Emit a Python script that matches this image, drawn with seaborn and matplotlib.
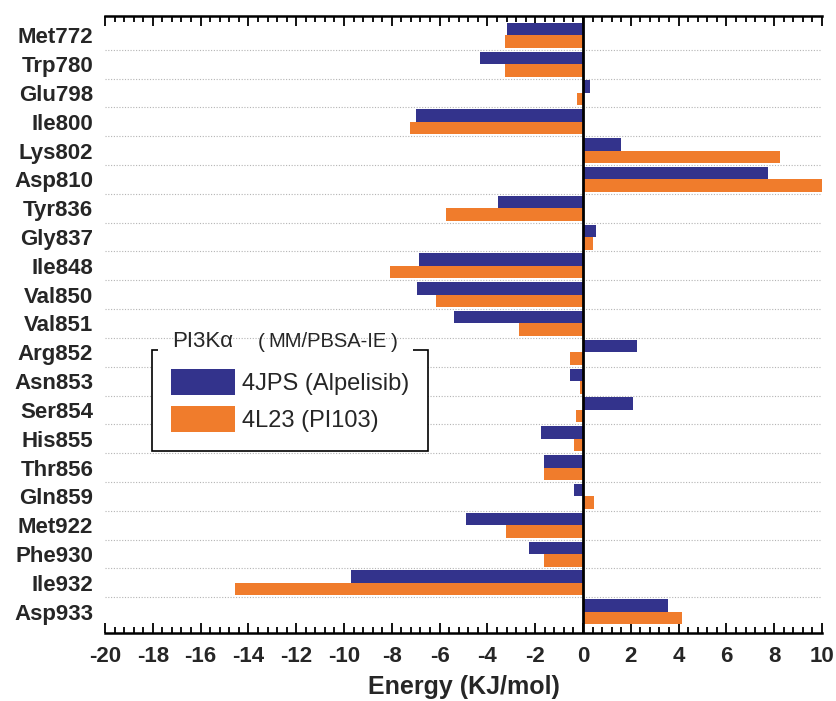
import matplotlib
matplotlib.use("Agg")
import matplotlib.pyplot as plt
from matplotlib.patches import Rectangle, Patch
from matplotlib.ticker import MultipleLocator
import seaborn as sns
import pandas as pd

residues = ["Met772", "Trp780", "Glu798", "Ile800", "Lys802", "Asp810", "Tyr836",
            "Gly837", "Ile848", "Val850", "Val851", "Arg852", "Asn853", "Ser854",
            "His855", "Thr856", "Gln859", "Met922", "Phe930", "Ile932", "Asp933"]
alpelisib = [-3.2, -4.3, 0.28, -7.0, 1.57, 7.73, -3.55, 0.55, -6.88, -6.96, -5.4,
             2.26, -0.56, 2.1, -1.75, -1.62, -0.36, -4.9, -2.25, -9.7, 3.55]
pi103 = [-3.25, -3.28, -0.24, -7.24, 8.23, 10.0, -5.72, 0.42, -8.09, -6.16, -2.66,
         -0.55, -0.14, -0.29, -0.39, -1.62, 0.47, -3.23, -1.65, -14.55, 4.14]
series_names = ["4JPS (Alpelisib)", "4L23 (PI103)"]
colors = ["#33338C", "#F07C2C"]
xticks = list(range(-20, 11, 2))

df = pd.DataFrame({
    "Residue": residues * 2,
    "Energy": alpelisib + pi103,
    "Series": [series_names[0]] * len(residues) + [series_names[1]] * len(residues),
})

sns.set_style("white")
plt.rcParams["font.family"] = ["Liberation Sans", "DejaVu Sans"]
plt.rcParams["axes.unicode_minus"] = False

W, H = 836, 701
fig = plt.figure(figsize=(W / 100, H / 100), dpi=100)
ax = fig.add_axes([105 / W, 1 - 633 / H, (822 - 105) / W, (633 - 16) / H])

sns.barplot(data=df, y="Residue", x="Energy", hue="Series", orient="h",
            palette=colors, saturation=1, width=0.87, linewidth=0, ax=ax,
            order=residues, hue_order=series_names, legend=False, zorder=3)

ax.set_xlim(-20, 10)
ax.set_ylim(20.74, -0.67)

# dotted separators between residues
for i in range(len(residues) - 1):
    ax.axhline(i + 0.5, color="#b4b4b4", lw=0.8, ls=(0, (1, 1.5)), zorder=1)

ax.axvline(0, color="black", lw=2, zorder=4)

for s in ["left", "right"]:
    ax.spines[s].set_visible(False)
for s in ["top", "bottom"]:
    ax.spines[s].set_linewidth(1.8)
    ax.spines[s].set_color("black")

ax.set_xticks(xticks)
ax.xaxis.set_minor_locator(MultipleLocator(0.4))
ax.tick_params(axis="x", which="both", direction="in", top=True, bottom=True,
               labeltop=False, color="black", width=1.3)
ax.tick_params(axis="x", which="major", length=7.5, pad=9)
ax.tick_params(axis="x", which="minor", length=4)
ax.tick_params(axis="y", length=0, pad=8.5)
for lab in ax.get_xticklabels():
    lab.set_fontsize(16)
    lab.set_fontweight("bold")
for lab in ax.get_yticklabels():
    lab.set_fontsize(16)
    lab.set_fontweight("bold")

ax.set_ylabel("")
ax.set_xlabel("Energy (KJ/mol)", fontsize=18, fontweight="bold", labelpad=6)

# legend
handles = [Patch(facecolor=c, edgecolor="none") for c in colors]
leg = ax.legend(handles, series_names, loc="upper left",
                bbox_to_anchor=(152 / W, 1 - 350 / H), bbox_transform=fig.transFigure,
                fontsize=17, frameon=True, fancybox=False, edgecolor="black",
                framealpha=1, borderpad=0.8, handlelength=2.71, handleheight=1.31,
                handletextpad=0.3, labelspacing=0.48, borderaxespad=0)
leg.get_frame().set_linewidth(1.2)
leg.set_zorder(6)

# break in legend top border for the title
fig.patches.append(Rectangle((158 / W, 1 - 356 / H), (413 - 158) / W, 12 / H,
                             transform=fig.transFigure, facecolor="white",
                             edgecolor="none", zorder=10))
fig.text(172 / W, 1 - 347 / H, "PI3Kα", fontsize=16, ha="left", va="baseline", zorder=11)
fig.text(258 / W, 1 - 348 / H, "(", fontsize=15, ha="left", va="baseline", zorder=11)
fig.text(328 / W, 1 - 347 / H, "MM/PBSA-IE", fontsize=14.5, ha="center", va="baseline", zorder=11)
fig.text(398 / W, 1 - 348 / H, ")", fontsize=15, ha="right", va="baseline", zorder=11)

fig.savefig("out.png", dpi=100)
